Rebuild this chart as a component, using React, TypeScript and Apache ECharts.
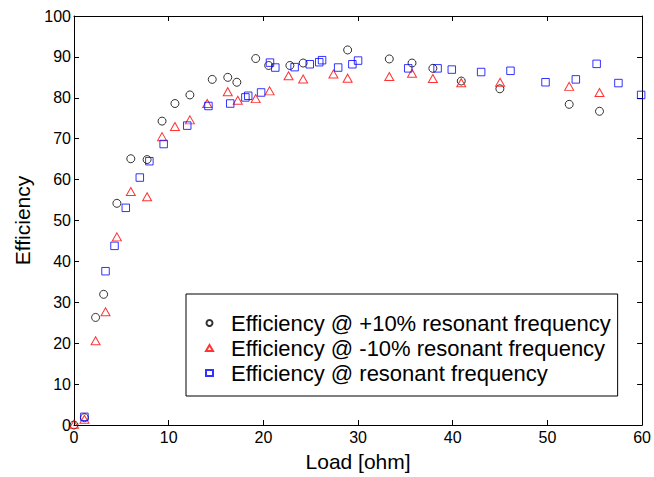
import React, { useEffect, useRef } from "react";
import * as echarts from "echarts";

const plusLoad = [0, 1.1, 2.28, 3.13, 4.53, 6.0, 7.72, 9.3, 10.66, 12.24, 14.6, 16.24, 17.2, 19.19, 20.56, 22.8, 24.2, 28.9, 33.3, 35.7, 37.9, 40.9, 44.98, 52.3, 55.5];
const plusEff = [0, 1.8, 26.3, 31.95, 54.2, 65.1, 64.9, 74.3, 78.6, 80.7, 84.5, 85.0, 83.8, 89.6, 87.9, 87.9, 88.5, 91.7, 89.5, 88.5, 87.2, 84.1, 82.2, 78.4, 76.7];

const minusLoad = [0, 1.1, 2.28, 3.33, 4.53, 6.0, 7.72, 9.3, 10.66, 12.24, 14.07, 16.24, 17.3, 19.19, 20.66, 22.66, 24.2, 27.4, 28.9, 33.3, 35.7, 37.9, 40.9, 45.0, 52.3, 55.5];
const minusEff = [0.2, 1.4, 20.6, 27.7, 46.0, 57.1, 55.8, 70.5, 73.0, 74.6, 78.6, 81.5, 79.4, 79.8, 81.7, 85.4, 84.6, 85.8, 84.8, 85.2, 86.0, 84.7, 83.7, 83.8, 82.8, 81.3];

const resLoad = [1.1, 3.33, 4.28, 5.47, 6.95, 7.96, 9.47, 11.96, 14.2, 16.5, 18.1, 18.4, 19.76, 20.7, 21.26, 23.3, 24.9, 25.9, 26.2, 27.9, 29.4, 30.0, 35.3, 38.4, 39.9, 43.0, 46.1, 49.8, 53.0, 55.2, 57.5, 59.9];
const resEff = [2.0, 37.6, 43.8, 53.1, 60.5, 64.5, 68.7, 73.2, 78.0, 78.6, 80.1, 80.5, 81.3, 88.6, 87.4, 87.5, 88.2, 88.7, 89.2, 87.4, 88.2, 89.1, 87.2, 87.2, 86.9, 86.3, 86.6, 83.8, 84.5, 88.3, 83.6, 80.7];

const seriesNames = [
  "Efficiency @ +10% resonant frequency",
  "Efficiency @ -10% resonant frequency",
  "Efficiency @ resonant frequency",
];

const xTicks = { min: 0, max: 60, interval: 10 };
const yTicks = { min: 0, max: 100, interval: 10 };

const zip = (xs: number[], ys: number[]) => xs.map((x, i) => [x, ys[i]]);

export default function App() {
  const ref = useRef<HTMLDivElement>(null);
  useEffect(() => {
    if (!ref.current) return;
    const chart = echarts.init(ref.current, null, { renderer: "svg" });
    const font = "'Liberation Sans', Arial, sans-serif";
    const baseAxis = {
      type: "value" as const,
      axisLine: { show: true, onZero: false, lineStyle: { color: "#000", width: 1 } },
      axisTick: { show: true, inside: true, length: 5, lineStyle: { color: "#000" } },
      splitLine: { show: false },
    };
    chart.setOption({
      animation: false,
      backgroundColor: "#fff",
      textStyle: { fontFamily: font },
      grid: { left: 74, right: 10, top: 16, bottom: 47, containLabel: false },
      xAxis: [
        {
          ...baseAxis,
          ...xTicks,
          position: "bottom",
          name: "Load [ohm]",
          nameLocation: "middle",
          nameGap: 26,
          nameTextStyle: { fontSize: 21, color: "#000", fontFamily: font },
          axisLabel: { fontSize: 16, color: "#000", margin: 4, fontFamily: font },
        },
        {
          ...baseAxis,
          ...xTicks,
          position: "top",
          axisLabel: { show: false },
        },
      ],
      yAxis: [
        {
          ...baseAxis,
          ...yTicks,
          position: "left",
          name: "Efficiency",
          nameLocation: "middle",
          nameGap: 40,
          nameTextStyle: { fontSize: 21, color: "#000", fontFamily: font },
          axisLabel: { fontSize: 16, color: "#000", margin: 3, fontFamily: font },
        },
        {
          ...baseAxis,
          ...yTicks,
          position: "right",
          axisLabel: { show: false },
        },
      ],
      legend: {
        orient: "vertical",
        left: 186,
        top: 294,
        backgroundColor: "#fff",
        borderColor: "#000",
        borderWidth: 1,
        borderRadius: 0,
        padding: [18, 7, 12, 19],
        itemGap: 3,
        itemWidth: 7,
        itemHeight: 6,
        textStyle: { fontSize: 22, lineHeight: 22, color: "#000", fontFamily: font, padding: [0, 0, 0, 13] },
        data: seriesNames,
      },
      series: [
        {
          name: seriesNames[0],
          type: "scatter",
          symbol: "circle",
          symbolSize: 8,
          itemStyle: { color: "rgba(0,0,0,0)", borderColor: "#000", borderWidth: 1 },
          data: zip(plusLoad, plusEff),
        },
        {
          name: seriesNames[1],
          type: "scatter",
          symbol: "triangle",
          symbolSize: [9, 8],
          itemStyle: { color: "rgba(0,0,0,0)", borderColor: "#ff0000", borderWidth: 1 },
          data: zip(minusLoad, minusEff),
        },
        {
          name: seriesNames[2],
          type: "scatter",
          symbol: "rect",
          symbolSize: 7.5,
          itemStyle: { color: "rgba(0,0,0,0)", borderColor: "#0000ff", borderWidth: 1 },
          data: zip(resLoad, resEff),
        },
      ],
    });
    return () => chart.dispose();
  }, []);
  return <div ref={ref} style={{ width: 654, height: 477, position: "absolute", left: 0, top: 0 }} />;
}
